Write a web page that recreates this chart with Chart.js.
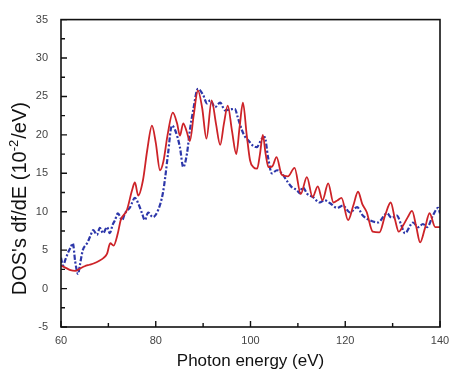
<!DOCTYPE html>
<html>
<head>
<meta charset="utf-8">
<script src="https://cdn.jsdelivr.net/npm/chart.js@4/dist/chart.umd.min.js"></script>
<style>
html,body{margin:0;padding:0;background:#fff;}
#wrap{width:449px;height:372px;position:relative;}
</style>
</head>
<body>
<div id="wrap"><canvas id="c" width="449" height="372"></canvas></div>
<script>
// Photon energy (eV) and DOS values (10^-2 / eV)
const redX = [60,61,62,63,64,65,66,67,68,69,69.7,70.4,71.1,72,72.6,73.9,75,75.6,76.3,77.3,78.2,79.2,80,80.9,81.6,82.5,83.6,84.5,85.1,85.8,86.5,87.2,88,88.9,89.8,90.7,91.8,92.7,93.6,94.4,95.2,96.1,97,97.7,98.4,99.2,99.9,100.6,101.4,102,102.6,103.2,103.8,104.6,105.5,106.6,107.9,109.3,110.6,111.9,113.1,114.2,115.2,116.4,117.5,118.4,119.2,120.6,121.7,122.7,123.6,124.5,125.8,127.2,128.4,129.6,130.5,131.3,132.2,133.2,134.1,135,135.8,136.8,137.8,139,140];
const redY = [3.0,2.7,2.4,2.3,2.6,2.9,3.1,3.3,3.6,4.0,4.5,5.9,5.6,7.2,8.9,10.2,12.8,13.8,12.1,14.1,18.0,21.2,19.0,15.4,16.5,20.0,22.9,21.5,19.9,21.5,20.5,19.2,22.5,25.8,23.5,19.5,24.5,21.5,18.7,21.5,23.8,20.5,17.5,21.0,24.2,20.0,16.7,15.8,15.6,17.5,20.0,17.5,15.8,15.9,17.1,14.8,14.6,15.7,12.3,14.5,11.9,13.3,11.5,13.7,11.2,11.5,11.8,8.9,10.8,12.6,11.0,10.0,7.4,7.3,9.5,11.2,9.0,7.4,8.2,9.3,10.1,8.0,6.0,7.8,9.8,8.0,8.0];
const blueX = [60,60.4,61,61.5,62,62.5,63,63.6,64,64.6,65.5,66.1,66.8,67.6,68.2,68.9,69.7,70.3,70.9,71.4,72,72.9,73.5,74.6,75.6,76.3,77.1,77.7,78.4,79.4,80.5,81.5,82,82.6,83.4,84.1,85.1,85.8,86.6,87.2,87.9,88.9,90,90.8,91.5,92.5,93.6,94.6,95.7,96.7,97.3,98.2,98.9,99.5,100.5,101.3,102.4,103,103.7,104.5,105.6,106.6,107.6,108.7,109.8,110.4,111,112,113.2,114.6,115.6,116.8,118.3,119.5,121,122.5,123.7,125.2,126.9,128.8,129.8,130.9,131.8,132.6,134.3,135.4,136.4,137.3,138.5,139.6,140];
const blueY = [4.0,3.0,3.9,4.7,5.3,5.9,3.5,1.9,3.1,5.0,5.9,6.7,7.6,7.0,7.9,7.2,8.0,7.2,8.3,8.9,9.8,8.9,9.8,10.6,11.8,11.1,9.8,8.9,9.9,9.3,10.2,12.4,14.5,17.6,21.2,20.6,18.4,15.8,17.6,20.6,23.2,26.0,25.2,24.1,24.5,23.6,24.2,23.2,23.3,23.4,22.3,20.6,19.7,19.3,18.6,18.4,19.5,19.7,17.1,15.0,15.4,15.0,14.1,13.2,12.8,12.4,13.2,12.3,11.9,11.2,11.5,11.1,10.5,10.8,9.9,10.6,9.5,8.9,8.6,9.8,9.2,9.5,8.3,7.2,8.6,8.0,8.4,8.0,9.5,10.5,9.8];
const xTicks = [60,80,100,120,140];
const yTicks = [-5,0,5,10,15,20,25,30,35];
const yTitleParts = ["DOS's df/dE (10", "-2", "/eV)"];

const toPts = (xs, ys) => xs.map((x, i) => ({x: x, y: ys[i]}));

const frameTicks = {
  id: 'frameTicks',
  afterDraw(chart) {
    const {ctx, chartArea: a, scales: {x, y}} = chart;
    ctx.save();
    ctx.strokeStyle = '#111';
    ctx.lineWidth = 1.6;
    ctx.strokeRect(a.left, a.top, a.right - a.left, a.bottom - a.top);
    ctx.lineWidth = 1.4;
    ctx.beginPath();
    for (let v = 60; v <= 140; v += 10) {
      const px = x.getPixelForValue(v);
      const len = (v % 20 === 0) ? 6 : 4;
      ctx.moveTo(px, a.bottom);
      ctx.lineTo(px, a.bottom - len);
    }
    for (let v = -5; v <= 35; v += 2.5) {
      const py = y.getPixelForValue(v);
      const len = (Math.abs(v % 5) < 1e-9) ? 6 : 4;
      ctx.moveTo(a.left, py);
      ctx.lineTo(a.left + len, py);
    }
    ctx.stroke();
    // y axis title with superscript
    const big = '20px "Liberation Sans", Arial';
    const small = '13px "Liberation Sans", Arial';
    ctx.font = big; const w0 = ctx.measureText(yTitleParts[0]).width;
    const w2 = ctx.measureText(yTitleParts[2]).width;
    ctx.font = small; const w1 = ctx.measureText(yTitleParts[1]).width;
    const total = w0 + w1 + 1 + w2;
    const cy = y.getPixelForValue(11.7);
    ctx.translate(26, cy);
    ctx.rotate(-Math.PI / 2);
    ctx.fillStyle = '#111';
    ctx.textBaseline = 'alphabetic';
    ctx.textAlign = 'left';
    let sx = -total / 2;
    ctx.font = big; ctx.fillText(yTitleParts[0], sx, 0); sx += w0;
    ctx.font = small; ctx.fillText(yTitleParts[1], sx, -8); sx += w1 + 1;
    ctx.font = big; ctx.fillText(yTitleParts[2], sx, 0);
    ctx.restore();
  }
};

new Chart(document.getElementById('c'), {
  type: 'line',
  data: {
    datasets: [
      {
        data: toPts(redX, redY),
        borderColor: 'rgb(205,35,40)',
        borderWidth: 1.8,
        pointRadius: 0,
        cubicInterpolationMode: 'monotone',
        fill: false
      },
      {
        data: toPts(blueX, blueY),
        borderColor: 'rgb(45,55,170)',
        borderWidth: 2.2,
        borderDash: [5, 2, 2, 2],
        pointRadius: 0,
        cubicInterpolationMode: 'monotone',
        fill: false
      }
    ]
  },
  options: {
    responsive: false,
    animation: false,
    layout: {padding: {left: 0, right: 0, top: 19, bottom: 0}},
    plugins: {legend: {display: false}, tooltip: {enabled: false}},
    scales: {
      x: {
        type: 'linear',
        min: 60, max: 140,
        afterBuildTicks: s => { s.ticks = xTicks.map(v => ({value: v})); },
        grid: {display: false, drawTicks: false},
        border: {display: false},
        ticks: {font: {family: 'Liberation Sans, Arial', size: 11}, color: '#444', padding: 7, maxRotation: 0},
        title: {display: true, text: 'Photon energy (eV)', font: {family: 'Liberation Sans, Arial', size: 17}, color: '#111', padding: {top: 2, bottom: 0}},
        afterFit: s => { s.height = 45; s.paddingRight = 9; }
      },
      y: {
        type: 'linear',
        min: -5, max: 35,
        afterBuildTicks: s => { s.ticks = yTicks.map(v => ({value: v})); },
        grid: {display: false, drawTicks: false},
        border: {display: false},
        ticks: {font: {family: 'Liberation Sans, Arial', size: 11}, color: '#444', padding: 13},
        title: {display: false},
        afterFit: s => { s.width = 61; }
      }
    }
  },
  plugins: [frameTicks]
});
</script>
</body>
</html>
